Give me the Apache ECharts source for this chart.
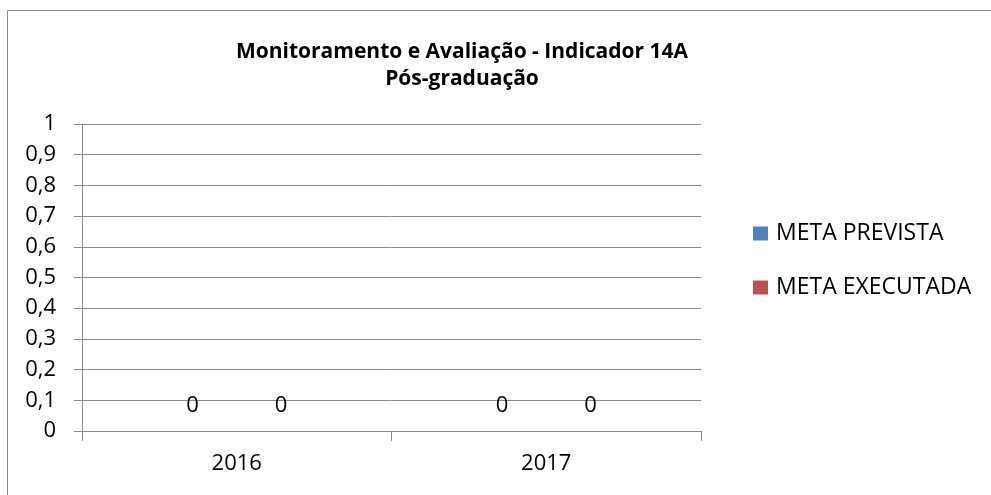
<!DOCTYPE html>
<html>
<head>
<meta charset="utf-8">
<script src="https://cdn.jsdelivr.net/npm/echarts@6/dist/echarts.min.js"></script>
<style>
  html, body { margin: 0; padding: 0; background: #fff; }
  #chart { width: 991px; height: 495px; }
</style>
</head>
<body>
<div id="chart"></div>
<script>
const years = ['2016', '2017']
const metaPrevista = [0, 0]
const metaExecutada = [0, 0]
const seriesNames = ['META PREVISTA', 'META EXECUTADA']
const titleLines = ['Monitoramento e Avaliação - Indicador 14A', 'Pós-graduação']

const font = 'Open Sans'
const gray = '#898989'

const chart = echarts.init(document.getElementById('chart'))

const labelOpt = {
  show: true,
  position: 'top',
  distance: 14,
  color: '#000',
  fontFamily: font,
  fontSize: 22
}

const option = {
  animation: false,
  backgroundColor: '#fff',
  graphic: [
    {
      type: 'rect',
      shape: { x: 7.5, y: 10.5, width: 1000, height: 500 },
      style: { fill: 'none', stroke: gray, lineWidth: 1 }
    },
    {
      type: 'text',
      x: 462,
      y: 65.5,
      style: {
        text: titleLines.join('\n'),
        align: 'center',
        verticalAlign: 'middle',
        fontFamily: font,
        fontWeight: 'bold',
        fontSize: 21,
        lineHeight: 27,
        fill: '#000'
      }
    }
  ],
  legend: {
    orient: 'vertical',
    left: 753,
    top: 222,
    padding: 0,
    itemWidth: 15,
    itemHeight: 14,
    itemGap: 31,
    icon: 'rect',
    data: seriesNames,
    textStyle: {
      fontFamily: font,
      fontSize: 23,
      color: '#000',
      padding: [0, 0, 0, 3]
    }
  },
  grid: {
    left: 82,
    right: 290,
    top: 124,
    bottom: 64,
    containLabel: false
  },
  xAxis: {
    type: 'category',
    data: years,
    axisLine: { lineStyle: { color: gray, width: 1 } },
    axisTick: { show: true, length: 10, lineStyle: { color: gray } },
    axisLabel: {
      margin: 22,
      color: '#000',
      fontFamily: font,
      fontSize: 22
    }
  },
  yAxis: {
    type: 'value',
    min: 0,
    max: 1,
    interval: 0.1,
    axisLine: { show: true, lineStyle: { color: gray, width: 1 } },
    axisTick: { show: true, length: 8, lineStyle: { color: gray } },
    splitLine: { lineStyle: { color: gray, width: 1 } },
    axisLabel: {
      margin: 26,
      color: '#000',
      fontFamily: font,
      fontSize: 22,
      formatter: v => String(Math.round(v * 10) / 10).replace('.', ',')
    }
  },
  series: [
    {
      name: seriesNames[0],
      type: 'bar',
      data: metaPrevista,
      barGap: '0%',
      barCategoryGap: '42.86%',
      itemStyle: { color: '#4F81BD' },
      label: labelOpt
    },
    {
      name: seriesNames[1],
      type: 'bar',
      data: metaExecutada,
      itemStyle: { color: '#C0504D' },
      label: labelOpt
    }
  ]
}

chart.setOption(option)
</script>
</body>
</html>
